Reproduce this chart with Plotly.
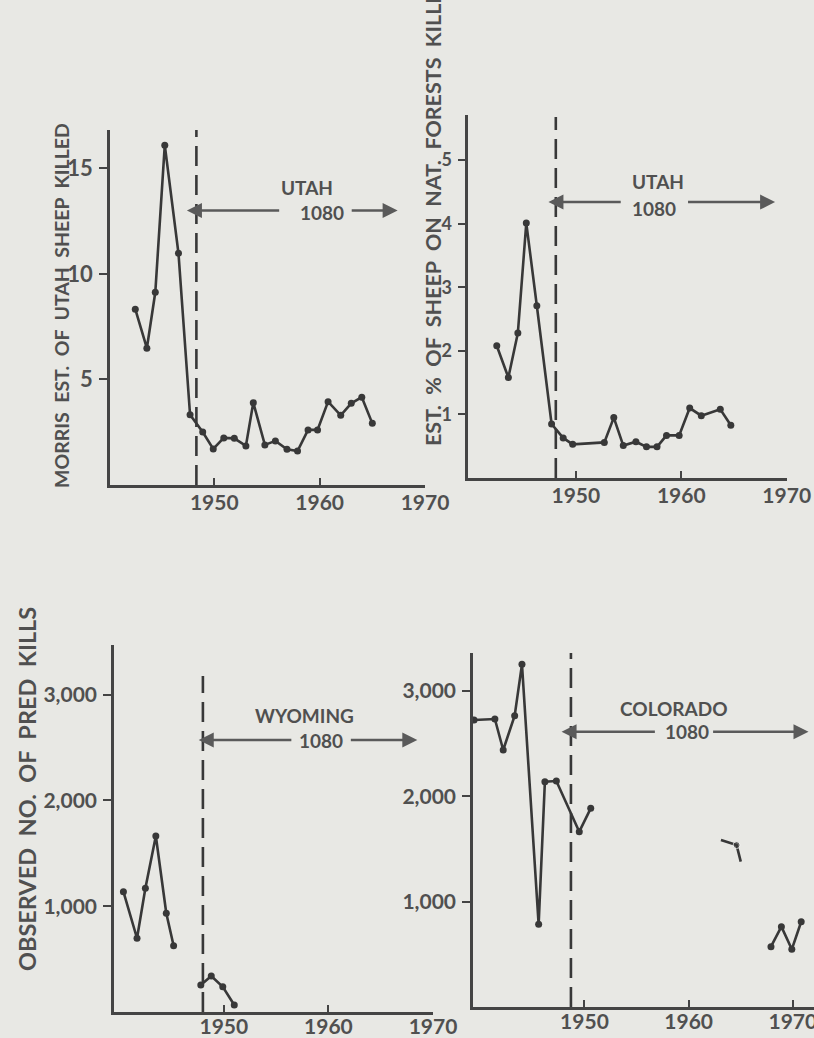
import plotly.graph_objects as go

W, H = 814, 1038

# ---------------- data ----------------
# Top-left: Morris est. of Utah sheep killed
tl_years = [1942.5, 1943.6, 1944.4, 1945.3, 1946.6, 1947.7, 1948.9, 1949.9, 1950.9, 1951.9,
            1953.0, 1953.7, 1954.8, 1955.8, 1956.9, 1957.9, 1958.9, 1959.8, 1960.8, 1962.0,
            1963.0, 1964.0, 1965.0]
tl_values = [8.33, 6.48, 9.13, 16.1, 10.98, 3.33, 2.51, 1.71, 2.23, 2.21,
             1.85, 3.90, 1.90, 2.09, 1.69, 1.61, 2.61, 2.61, 3.95, 3.30,
             3.87, 4.16, 2.92]

# Top-right: est. % of sheep on national forests killed
tr_years = [1942.5, 1943.6, 1944.5, 1945.3, 1946.3, 1947.7, 1948.8, 1949.7, 1952.7, 1953.6,
            1954.5, 1955.7, 1956.7, 1957.7, 1958.6, 1959.8, 1960.8, 1961.9, 1963.7, 1964.7]
tr_values = [2.08, 1.58, 2.28, 4.01, 2.71, 0.85, 0.63, 0.53, 0.56, 0.95,
             0.51, 0.57, 0.49, 0.49, 0.67, 0.67, 1.10, 0.98, 1.08, 0.83]

# Bottom-left: Wyoming observed no. of predator kills (gap between segments)
bl_years = [1940.4, 1941.7, 1942.5, 1943.5, 1944.5, 1945.2, None, 1947.8, 1948.8, 1949.9, 1951.0]
bl_values = [1137, 697, 1169, 1664, 933, 627, None, 255, 340, 239, 66]

# Bottom-right: Colorado observed no. of predator kills
br_years = [1939.4, 1941.4, 1942.2, 1943.3, 1944.0, 1945.6, 1946.2, 1947.3, 1949.5, 1950.6]
br_values = [2726, 2735, 2441, 2766, 3254, 785, 2140, 2146, 1665, 1887]
br_years_b = [1963.1, 1964.6, 1965.0]
br_values_b = [1586, 1538, 1380]
br_years_c = [1967.9, 1968.9, 1969.9, 1970.8]
br_values_c = [573, 763, 548, 810]

year_ticks = [1950, 1960, 1970]
tl_ticks = [5, 10, 15]
tr_ticks = [1, 2, 3, 4, 5]
b_ticks = [1000, 2000, 3000]

# ---------------- styling ----------------
BG = "#e8e8e4"
LINE = "#383838"
AXC = "#444444"
TXT = "#505050"
FONT = "Lato"


def px_x(v):
    return v / W


def px_y(v):
    return 1 - v / H


fig = go.Figure()

line_style = dict(color=LINE, width=2.6)
marker_style = dict(color=LINE, size=7)

fig.add_trace(go.Scatter(x=tl_years, y=tl_values, mode="lines+markers", line=line_style,
                         marker=marker_style, xaxis="x", yaxis="y", showlegend=False))
fig.add_trace(go.Scatter(x=tr_years, y=tr_values, mode="lines+markers", line=line_style,
                         marker=marker_style, xaxis="x2", yaxis="y2", showlegend=False))
fig.add_trace(go.Scatter(x=bl_years, y=bl_values, mode="lines+markers", line=line_style,
                         marker=marker_style, xaxis="x3", yaxis="y3", showlegend=False,
                         connectgaps=False))
fig.add_trace(go.Scatter(x=br_years, y=br_values, mode="lines+markers", line=line_style,
                         marker=marker_style, xaxis="x4", yaxis="y4", showlegend=False))
fig.add_trace(go.Scatter(x=br_years_b, y=br_values_b, mode="lines+markers", line=line_style,
                         marker=dict(color=LINE, size=[0, 7, 0]), xaxis="x4", yaxis="y4",
                         showlegend=False))
fig.add_trace(go.Scatter(x=br_years_c, y=br_values_c, mode="lines+markers", line=line_style,
                         marker=marker_style, xaxis="x4", yaxis="y4", showlegend=False))


def xax(dom, rng, anchor, standoff=-3):
    return dict(domain=[px_x(dom[0]), px_x(dom[1])], range=rng, anchor=anchor,
                automargin=False, ticklabeloverflow="allow",
                showline=True, linecolor=AXC, linewidth=2.5, showgrid=False, zeroline=False,
                ticks="inside", ticklen=7, tickwidth=2, tickcolor=AXC,
                tickvals=year_ticks, ticktext=[str(t) for t in year_ticks],
                tickfont=dict(family=FONT, size=21, color=TXT, weight=700),
                ticklabelstandoff=standoff)


def yax(dom, rng, anchor, ticks, size, fmt=""):
    return dict(domain=[px_y(dom[0]), px_y(dom[1])], range=rng, anchor=anchor,
                automargin=False,
                showline=True, linecolor=AXC, linewidth=2.5, showgrid=False, zeroline=False,
                ticks="outside", ticklen=8, tickwidth=2, tickcolor=AXC,
                tickvals=ticks, tickformat=fmt,
                tickfont=dict(family=FONT, size=size, color=TXT, weight=700),
                ticklabelstandoff=2)


layout = dict(
    width=W, height=H,
    autosize=False,
    margin=dict(l=0, r=0, t=0, b=0, pad=0),
    paper_bgcolor=BG, plot_bgcolor=BG,
    showlegend=False,
    xaxis=xax((110, 425), [1940.1, 1970], "y"),
    yaxis=yax((485, 130), [0, 16.82], "x", tl_ticks, 22),
    xaxis2=xax((468.3, 786.7), [1939.8, 1970], "y2"),
    yaxis2=yax((478, 115), [0, 5.71], "x2", tr_ticks, 18),
    xaxis3=xax((114, 433), [1939.5, 1970], "y3", -6),
    yaxis3=yax((1012, 645), [0, 3469], "x3", b_ticks, 21, ","),
    xaxis4=xax((473, 814), [1939.3, 1972.03], "y4", -6),
    yaxis4=yax((1007, 653), [0, 3362], "x4", b_ticks, 21, ","),
)
fig.update_layout(**layout)

# dashed 1080 start lines
dash_specs = [("x", "y", 1948.3, 16.82), ("x2", "y2", 1948.1, 5.68),
              ("x3", "y3", 1948.0, 3176), ("x4", "y4", 1948.7, 3362)]
for xr, yr, xv, top in dash_specs:
    fig.add_shape(type="line", xref=xr, yref=yr, x0=xv, x1=xv, y0=0, y1=top,
                  line=dict(color=LINE, width=2.6, dash="20px,9px"))

# region labels and arrows
ARC = "#5a5a5a"
lab_font = dict(family=FONT, size=19, color=TXT, weight=700)


def region(xr, yr, name, name_xy, num_xy, arrow_y, left, right):
    fig.add_annotation(xref=xr, yref=yr, x=name_xy[0], y=name_xy[1], text=name,
                       showarrow=False, font=lab_font, xanchor="center", yanchor="middle")
    fig.add_annotation(xref=xr, yref=yr, x=num_xy[0], y=num_xy[1], text="1080",
                       showarrow=False, font=lab_font, xanchor="center", yanchor="middle")
    fig.add_annotation(xref=xr, yref=yr, axref=xr, ayref=yr, x=left[0], y=arrow_y,
                       ax=left[1], ay=arrow_y, text="", showarrow=True, arrowhead=2,
                       arrowsize=1.2, arrowwidth=2.5, arrowcolor=ARC, standoff=0)
    fig.add_annotation(xref=xr, yref=yr, axref=xr, ayref=yr, x=right[1], y=arrow_y,
                       ax=right[0], ay=arrow_y, text="", showarrow=True, arrowhead=2,
                       arrowsize=1.2, arrowwidth=2.5, arrowcolor=ARC, standoff=0)


region("x", "y", "UTAH", (1958.8, 14.1), (1960.2, 12.9), 13.0, (1947.4, 1956.3), (1962.9, 1967.4))
region("x2", "y2", "UTAH", (1957.8, 4.67), (1957.4, 4.24), 4.34, (1947.4, 1954.4), (1960.5, 1968.9))
region("x3", "y3", "WYOMING", (1957.7, 2807), (1959.3, 2571), 2571, (1947.6, 1956.6), (1962.0, 1968.5))
region("x4", "y4", "COLORADO", (1958.6, 2837), (1959.8, 2615), 2615, (1947.8, 1956.9), (1962.2, 1971.5))

# axis titles (rotated)
fig.add_annotation(xref="paper", yref="paper", x=px_x(61), y=px_y(306),
                   xanchor="center", yanchor="middle",
                   text="MORRIS  EST.  OF  UTAH  SHEEP  KILLED", textangle=-90, showarrow=False,
                   font=dict(family=FONT, size=19.5, color=TXT, weight=700))
fig.add_annotation(xref="paper", yref="paper", x=px_x(433), y=px_y(211),
                   xanchor="center", yanchor="middle",
                   text="EST.  %  OF  SHEEP  ON  NAT.  FORESTS  KILLED", textangle=-90, showarrow=False,
                   font=dict(family=FONT, size=21.5, color=TXT, weight=700))
fig.add_annotation(xref="paper", yref="paper", x=px_x(27), y=px_y(789),
                   xanchor="center", yanchor="middle",
                   text="OBSERVED  NO.  OF  PRED  KILLS", textangle=-90, showarrow=False,
                   font=dict(family=FONT, size=23.5, color=TXT, weight=700))

fig.write_html("out.html", config={"responsive": False, "displayModeBar": False},
               post_script="document.body.style.margin='0px';document.body.style.overflow='hidden';")
